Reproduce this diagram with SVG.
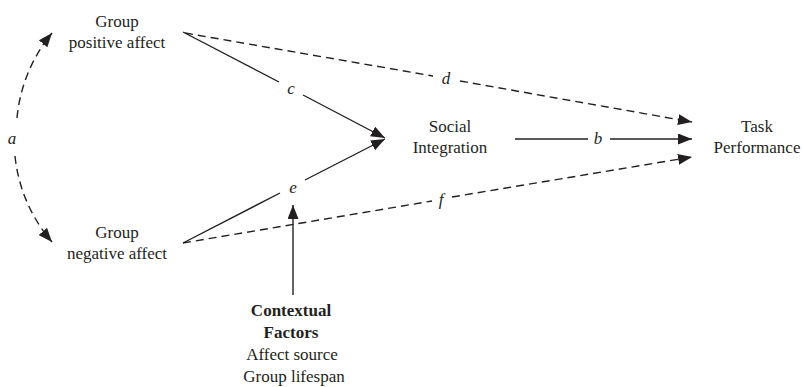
<svg xmlns="http://www.w3.org/2000/svg" width="803" height="387" viewBox="0 0 803 387">
<style>
text{font-family:"Liberation Serif","Times New Roman",serif;font-size:17px;fill:#231f20;text-anchor:middle}
.lbl{font-style:italic}
.b{font-weight:bold}
.ln{stroke:#231f20;stroke-width:1.4;fill:none}
.ds{stroke-dasharray:8 5}
</style>
<defs>
<marker id="ah" markerUnits="userSpaceOnUse" markerWidth="14" markerHeight="11" refX="14" refY="5.5" orient="auto">
<path d="M0,0 L14,5.5 L0,11 z" fill="#231f20"/>
</marker>
</defs>
<g id="connectors">
<path class="ln ds" d="M17,118 A156,156 0 0 1 52,33" marker-end="url(#ah)"/>
<path class="ln ds" d="M15,156 A156,156 0 0 0 52,242" marker-end="url(#ah)"/>
<path class="ln" d="M183,32 L279,82"/>
<path class="ln" d="M303,95 L385,138" marker-end="url(#ah)"/>
<path class="ln" d="M183,243 L280,193"/>
<path class="ln" d="M305,180 L385,139" marker-end="url(#ah)"/>
<path class="ln ds" d="M185,33 L433,76"/>
<path class="ln ds" d="M460,81 L692,122" marker-end="url(#ah)"/>
<path class="ln ds" d="M183,243 L432,201"/>
<path class="ln ds" d="M452,197 L692,157" marker-end="url(#ah)"/>
<path class="ln" d="M515,139 L588,139"/>
<path class="ln" d="M610,139 L692,139" marker-end="url(#ah)"/>
<path class="ln" d="M293,295 L293,205" marker-end="url(#ah)"/>
<text class="lbl" x="12" y="144">a</text>
<text class="lbl" x="598" y="144">b</text>
<text class="lbl" x="291" y="94">c</text>
<text class="lbl" x="446" y="84">d</text>
<text class="lbl" x="293" y="193">e</text>
<text class="lbl" x="441" y="205">f</text>
</g>
<g id="pos">
<text x="117" y="27">Group</text>
<text x="117" y="48">positive affect</text>
</g>
<g id="neg">
<text x="117" y="238">Group</text>
<text x="117" y="259">negative affect</text>
</g>
<g id="social">
<text x="450" y="132">Social</text>
<text x="450" y="153">Integration</text>
</g>
<g id="task">
<text x="757" y="132">Task</text>
<text x="757" y="153">Performance</text>
</g>
<g id="context">
<text class="b" x="291" y="316">Contextual</text>
<text class="b" x="291" y="338">Factors</text>
<text x="292" y="360">Affect source</text>
<text x="294" y="382">Group lifespan</text>
</g>
</svg>
